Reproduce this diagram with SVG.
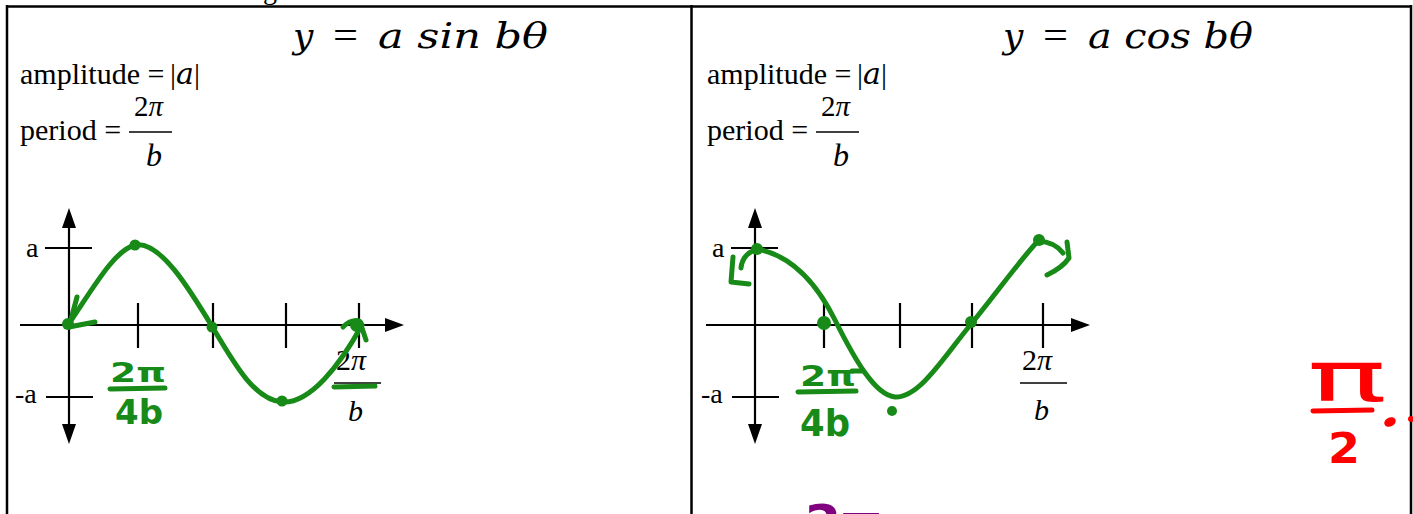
<svg xmlns="http://www.w3.org/2000/svg" width="1413" height="514" viewBox="0 0 1413 514">
<style>
.bd{stroke:#000;stroke-width:2.5;fill:none}
.ax{stroke:#000;stroke-width:2.2;fill:none}
.fl{stroke:#000;stroke-width:1.4;fill:none}
.ah{fill:#000}
.tx{font-family:"Liberation Serif","Times New Roman",serif;fill:#000}
.it{font-style:italic}
.ma{font-family:"DejaVu Serif",serif;font-style:italic}
.mt{font-family:"DejaVu Serif",serif;font-style:italic;font-size:36px;fill:#000}
.gr{stroke:#178a17;stroke-width:5;fill:none;stroke-linecap:round;stroke-linejoin:round}
.gd{fill:#178a17}
.gt{font-family:"DejaVu Sans",sans-serif;font-weight:bold;fill:#178a17}
.rs{stroke:#ff0000;stroke-width:5;fill:none;stroke-linecap:round}
.rt{font-family:"DejaVu Sans",sans-serif;fill:#ff0000}
.pt{font-family:"DejaVu Sans",sans-serif;font-weight:bold;fill:#800080}
</style>
<rect x="0" y="0" width="1413" height="514" fill="#fff"/>

<g id="table">
  <text class="tx" x="263" y="-1" font-size="28">g</text>
  <line class="bd" x1="6" y1="6.5" x2="1412" y2="6.5"/>
  <line class="bd" x1="7" y1="5" x2="7" y2="514"/>
  <line class="bd" x1="691.5" y1="5" x2="691.5" y2="514"/>
  <line class="bd" x1="1411" y1="5" x2="1411" y2="514"/>
</g>

<g id="left-formula">
  <text class="mt" x="293" y="48">y</text>
  <text class="tx" x="333" y="48" font-size="38" textLength="25" lengthAdjust="spacingAndGlyphs">=</text>
  <text class="mt" x="378" y="48" textLength="170" lengthAdjust="spacingAndGlyphs">a sin bθ</text>
  <text class="tx" x="20" y="84" font-size="30">amplitude =</text>
  <text class="tx" x="170" y="84" font-size="30">|<tspan class="ma">a</tspan>|</text>
  <text class="tx" x="20" y="140" font-size="30">period =</text>
  <text class="tx" x="134" y="116" font-size="29">2<tspan class="it">π</tspan></text>
  <line class="fl" x1="129" y1="132" x2="172" y2="132"/>
  <text class="tx it" x="146" y="166" font-size="32">b</text>
</g>

<g id="left-graph">
  <line class="ax" x1="20" y1="325" x2="388" y2="325"/>
  <polygon class="ah" points="404,325 385,318 385,332"/>
  <line class="ax" x1="69" y1="226" x2="69" y2="426"/>
  <polygon class="ah" points="69,208 62,228 76,228"/>
  <polygon class="ah" points="69,444 62,424 76,424"/>
  <line class="ax" x1="138" y1="303" x2="138" y2="348"/>
  <line class="ax" x1="213" y1="303" x2="213" y2="348"/>
  <line class="ax" x1="286" y1="303" x2="286" y2="348"/>
  <line class="ax" x1="359" y1="303" x2="359" y2="348"/>
  <line class="ax" x1="45" y1="248" x2="92" y2="248"/>
  <line class="ax" x1="46" y1="397" x2="93" y2="397"/>
  <text class="tx" x="26" y="257" font-size="28">a</text>
  <text class="tx" x="15" y="403" font-size="28">-a</text>
  <text class="tx" x="336" y="370" font-size="30">2<tspan class="it">π</tspan></text>
  <line class="fl" x1="334" y1="383" x2="381" y2="383"/>
  <text class="tx it" x="348" y="421" font-size="30">b</text>
</g>

<g id="left-sketch">
  <path class="gr" d="M70,322 C95,285 115,250 135,245 C160,240 190,290 213,328 C235,365 255,400 282,402 C310,404 340,365 362,325"/>
  <path class="gr" d="M77,297 L69,327 L95,322"/>
  <path class="gr" d="M343,327 Q352,318 360,322 L366,340"/>
  <circle class="gd" cx="68" cy="324" r="6"/>
  <circle class="gd" cx="135" cy="245" r="5.5"/>
  <circle class="gd" cx="212" cy="327" r="5.5"/>
  <circle class="gd" cx="282" cy="401" r="5.5"/>
  <circle class="gd" cx="357" cy="325" r="7"/>
  <text class="gt" x="110" y="382" font-size="26" textLength="56" lengthAdjust="spacingAndGlyphs">2π</text>
  <line class="gr" x1="110" y1="389" x2="165" y2="388"/>
  <text class="gt" x="115" y="424" font-size="34" textLength="48" lengthAdjust="spacingAndGlyphs">4b</text>
  <line class="gr" x1="334" y1="387" x2="375" y2="386"/>
</g>

<g id="right-formula">
  <text class="mt" x="1003" y="48">y</text>
  <text class="tx" x="1043" y="48" font-size="38" textLength="25" lengthAdjust="spacingAndGlyphs">=</text>
  <text class="mt" x="1088" y="48" textLength="165" lengthAdjust="spacingAndGlyphs">a cos bθ</text>
  <text class="tx" x="707" y="84" font-size="30">amplitude =</text>
  <text class="tx" x="857" y="84" font-size="30">|<tspan class="ma">a</tspan>|</text>
  <text class="tx" x="707" y="140" font-size="30">period =</text>
  <text class="tx" x="821" y="116" font-size="29">2<tspan class="it">π</tspan></text>
  <line class="fl" x1="816" y1="132" x2="859" y2="132"/>
  <text class="tx it" x="833" y="166" font-size="32">b</text>
</g>

<g id="right-graph">
  <line class="ax" x1="706" y1="325" x2="1074" y2="325"/>
  <polygon class="ah" points="1090,325 1071,318 1071,332"/>
  <line class="ax" x1="755" y1="226" x2="755" y2="426"/>
  <polygon class="ah" points="755,208 748,228 762,228"/>
  <polygon class="ah" points="755,444 748,424 762,424"/>
  <line class="ax" x1="824" y1="303" x2="824" y2="348"/>
  <line class="ax" x1="900" y1="303" x2="900" y2="348"/>
  <line class="ax" x1="972" y1="303" x2="972" y2="348"/>
  <line class="ax" x1="1043" y1="303" x2="1043" y2="348"/>
  <line class="ax" x1="731" y1="248" x2="778" y2="248"/>
  <line class="ax" x1="732" y1="397" x2="779" y2="397"/>
  <text class="tx" x="712" y="257" font-size="28">a</text>
  <text class="tx" x="701" y="403" font-size="28">-a</text>
  <text class="tx" x="1022" y="370" font-size="30">2<tspan class="it">π</tspan></text>
  <line class="fl" x1="1020" y1="383" x2="1067" y2="383"/>
  <text class="tx it" x="1034" y="420" font-size="30">b</text>
</g>

<g id="right-sketch">
  <path class="gr" d="M757,249 C790,255 815,280 835,320 C855,360 875,395 895,397 C920,398 945,355 972,323 C995,295 1020,260 1038,241"/>
  <path class="gr" d="M741,268 C742,258 748,252 757,249"/>
  <path class="gr" d="M733,257 L731,282 L749,284"/>
  <path class="gr" d="M1038,241 Q1055,242 1063,253"/>
  <path class="gr" d="M1067,242 L1069,258 Q1062,268 1047,275"/>
  <circle class="gd" cx="757" cy="249" r="6"/>
  <circle class="gd" cx="824" cy="323" r="7"/>
  <circle class="gd" cx="971" cy="322" r="6"/>
  <circle class="gd" cx="1039" cy="240" r="6"/>
  <circle class="gd" cx="892" cy="411" r="5"/>
  <text class="gt" x="800" y="386" font-size="29" textLength="56" lengthAdjust="spacingAndGlyphs">2π</text>
  <line class="gr" x1="852" y1="371" x2="862" y2="371"/>
  <line class="gr" x1="798" y1="392" x2="856" y2="391"/>
  <text class="gt" x="800" y="436" font-size="38" textLength="50" lengthAdjust="spacingAndGlyphs">4b</text>
</g>

<g id="red-note">
  <text class="rt" x="1307" y="401" font-size="70" textLength="80" lengthAdjust="spacingAndGlyphs">π</text>
  <line class="rs" x1="1313" y1="411" x2="1372" y2="410"/>
  <text class="rt" x="1328" y="463" font-size="42" font-weight="bold" textLength="32" lengthAdjust="spacingAndGlyphs">2</text>
  <ellipse cx="1390" cy="422" rx="6" ry="4.5" fill="#ff0000" transform="rotate(-25 1390 422)"/>
  <circle cx="1411" cy="419" r="3" fill="#ff0000"/>
</g>

<g id="purple-note">
  <text class="pt" x="805" y="539" font-size="48" textLength="77" lengthAdjust="spacingAndGlyphs">2π</text>
</g>
</svg>
